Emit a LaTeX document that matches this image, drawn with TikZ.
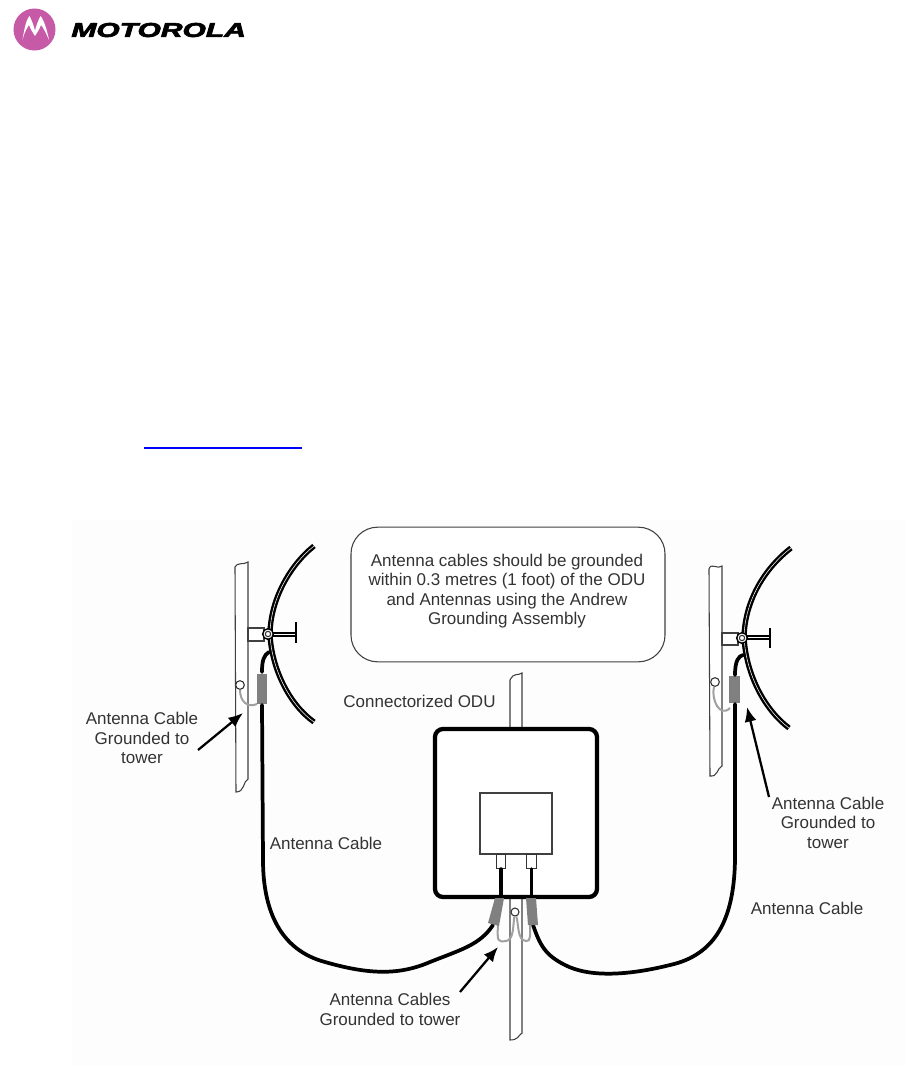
\documentclass[tikz,border=0pt]{standalone}
\usepackage{fontspec}
\setmainfont{Liberation Sans}
\usetikzlibrary{arrows.meta}
\definecolor{logopink}{HTML}{C65AA6}
\definecolor{sleevegray}{HTML}{808080}
\definecolor{wiregray}{HTML}{A0A0A0}
\definecolor{panelwhite}{HTML}{FDFDFD}
\tikzset{
mast/.style = {draw=black!75, line width=0.8pt, fill=white},
dish/.style = {draw=black, line width=1.8pt, double=white, double distance=0.4pt},
cable/.style = {draw=black, line width=2.8pt, line cap=round},
sleeve/.style = {fill=sleevegray, draw=none},
gndwire/.style = {draw=wiregray, line width=1.5pt},
ring/.style = {draw=black!80, fill=white, circle, line width=0.8pt, inner sep=0pt},
bolt/.style = {draw=black, fill=white, circle, line width=1.1pt, inner sep=0pt, minimum size=8pt},
callarrow/.style = {draw=black, line width=1.7pt, -{Latex[length=11pt,width=9pt]}},
lbl/.style = {align=center, font=\fontsize{12.75}{14.6}\selectfont, text=black!80, inner sep=0pt}
}
\begin{document}
\begin{tikzpicture}[x=0.75pt, y=-0.75pt]
    \useasboundingbox (0,0) rectangle (909,1065);
    \fill [panelwhite] (72,520) rectangle (905,1065);

    % Logo and link line
    \node [circle, fill=logopink, minimum size=31.5pt, inner sep=0pt] (logo) at (34.5,29.5) {};
    \fill [white] (22.5,40) .. controls (24,30) and (26,20) .. (29.5,16)
        .. controls (32,21) and (34,26) .. (35,31) .. controls (36,26) and (38,21) .. (40.5,16)
        .. controls (44,20) and (47,30) .. (49,40) .. controls (46,33) and (43,27) .. (41,25)
        .. controls (39,30) and (37,33) .. (35,36) .. controls (33,33) and (31,30) .. (29,25)
        .. controls (27,28) and (24,33) .. (22.5,40) -- cycle;
    \node [anchor=west, inner sep=0pt, xscale=1.5, font=\fontsize{15}{15}\selectfont\bfseries\itshape\addfontfeature{FakeBold=3}] (brand) at (71,30) {MOTOROLA};
    \coordinate (linkA) at (144,448);
    \coordinate (linkB) at (302,448);
    \draw [blue, line width=0.9pt] (linkA) -- (linkB);

    % Left mast and antenna
    \draw [mast] (235,567) .. controls (237,562) and (244,565) .. (248,562) -- (248,779)
        .. controls (243,781) and (245,792) .. (236,792) -- cycle;
    \draw [mast] (248,628) rectangle (264,641);
    \draw [dish] (314,546) .. controls (290,565) and (270,600) .. (270,635) .. controls (272,670) and (290,705) .. (314,722);
    \draw [black, line width=0.8pt] (270,633) -- (296,633);
    \draw [black, line width=0.8pt] (270,636) -- (296,636);
    \draw [black, line width=1pt] (296,622) -- (296,643);
    \node [bolt] (boltL) at (268,634) {};
    \node [ring, minimum size=4pt] (hubL) at (268,634) {};
    \coordinate (cableLtop) at (269,652);
    \node [ring, minimum size=6.5pt] (gndL) at (240,685) {};
    \draw [gndwire] (gndL) .. controls (240,702) and (248,708) .. (257,704);
    \draw [sleeve] (257,674) rectangle (267,704);

    % Right mast and antenna
    \draw [mast] (709,569) .. controls (711,562) and (718,570) .. (722,566) -- (722,766)
        .. controls (717,768) and (718,777) .. (710,776) -- cycle;
    \draw [mast] (722,633) rectangle (738,645);
    \draw [dish] (791,548) .. controls (765,568) and (745,600) .. (744,637) .. controls (746,675) and (765,710) .. (789,728);
    \draw [black, line width=0.8pt] (744,636) -- (770,636);
    \draw [black, line width=0.8pt] (744,639) -- (770,639);
    \draw [black, line width=1pt] (770,628) -- (770,648);
    \node [bolt] (boltR) at (742,638) {};
    \node [ring, minimum size=4pt] (hubR) at (742,638) {};
    \coordinate (cableRtop) at (743,655);
    \node [ring, minimum size=6.5pt] (gndR) at (715,682) {};
    \draw [gndwire] (gndR) .. controls (711,700) and (720,718) .. (730,708);
    \draw [sleeve] (729,676) rectangle (740,703);

    % ODU and centre mast
    \draw [mast] (510,680) .. controls (514,672) and (518,676) .. (522,673) -- (522,729) -- (510,729) -- cycle;
    \draw [mast] (510,897) -- (522,897) -- (522,1033) .. controls (518,1036) and (518,1040) .. (510,1040) -- cycle;
    \node [draw=black, line width=3.2pt, rounded corners=6pt, fill=white, minimum width=121.5pt, minimum height=126pt, inner sep=0pt] (odu) at (516,813) {};
    \node [draw=black!75, line width=0.8pt, fill=white, minimum width=54pt, minimum height=45.75pt, inner sep=0pt] (radio) at (516,823.5) {};
    \node [draw=black!80, line width=0.8pt, fill=white, minimum width=7pt, minimum height=10.5pt, inner sep=0pt, anchor=north] (portL) at (501,854) {};
    \node [draw=black!80, line width=0.8pt, fill=white, minimum width=7pt, minimum height=10.5pt, inner sep=0pt, anchor=north] (portR) at (531.5,854) {};
    \node [ring, minimum size=6pt] (gndC) at (515,912) {};
    \coordinate (sleeveLa) at (493,925);
    \coordinate (sleeveRa) at (533,925);

    % Antenna cables
    \draw [cable] (portL.south) -- (501,896);
    \draw [cable] (portR.south) -- (531.5,896);
    \draw [cable] (cableLtop) .. controls (264,655) and (262,660) .. (262,672);
    \draw [cable] (262,705) -- (263,860) .. controls (263,910) and (280,950) .. (325,962)
        .. controls (370,975) and (400,975) .. (430,962) .. controls (460,950) and (480,945) .. (sleeveLa);
    \draw [cable] (cableRtop) .. controls (739,656) and (735,660) .. (735,675);
    \draw [cable] (735,704) -- (735,860) .. controls (734,920) and (715,955) .. (670,965)
        .. controls (630,975) and (590,978) .. (565,965) .. controls (545,955) and (540,945) .. (sleeveRa);

    % Ground wires and sleeves at the foot of the ODU
    \draw [gndwire] (gndC) .. controls (513,925) and (514,940) .. (506,941) .. controls (498,942) and (497,942) .. (498,925);
    \draw [gndwire] (gndC) .. controls (519,925) and (517,940) .. (526,941) .. controls (531,942) and (530,935) .. (530,925);
    \fill [sleevegray] (495,898) -- (504,898) -- (499,926) -- (488,923) -- cycle;
    \fill [sleevegray] (526,898) -- (536,898) -- (538,925) -- (528,925) -- cycle;

    % Callout bubble
    \node [draw=black!75, line width=0.8pt, fill=white, rounded corners=20pt, minimum width=235.5pt, minimum height=101pt, inner sep=0pt] (note) at (508,594.5) {};
    \node [lbl] (notetext) at (507,591) {Antenna cables should be grounded\\within 0.3 metres (1 foot) of the ODU\\and Antennas using the Andrew\\Grounding Assembly};

    % Labels and their arrows
    \node [lbl] (odulabel) at (419.5,701) {Connectorized ODU};
    \node [lbl] (gndlabelL) at (142,738) {Antenna Cable\\Grounded to\\tower};
    \node [lbl] (cablelabelL) at (326,843) {Antenna Cable};
    \node [lbl] (gndlabelR) at (828,822.5) {Antenna Cable\\Grounded to\\tower};
    \node [lbl] (cablelabelR) at (807,908) {Antenna Cable};
    \node [lbl] (gndlabelC) at (390,1009.5) {Antenna Cables\\Grounded to tower};
    \coordinate (tipL) at (243,713);
    \coordinate (tipR) at (747,707);
    \coordinate (tipC) at (498,947);
    \draw [callarrow] (198,750) -- (tipL);
    \draw [callarrow] (769,797) -- (tipR);
    \draw [callarrow] (460,992) -- (tipC);
\end{tikzpicture}
\end{document}
